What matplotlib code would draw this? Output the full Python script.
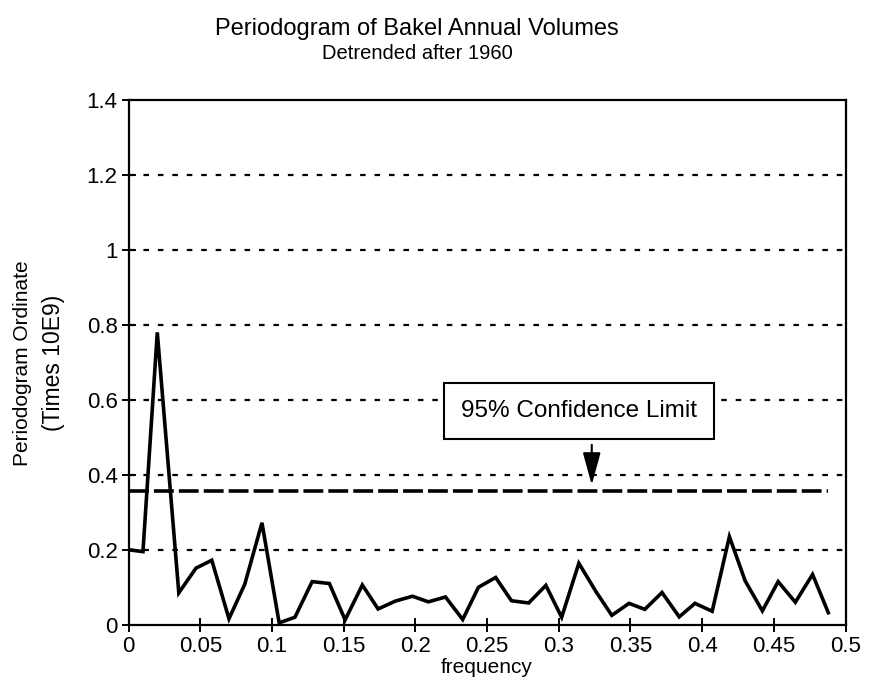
import numpy as np
import matplotlib
matplotlib.use("Agg")
import matplotlib.pyplot as plt

plt.rcParams['font.family'] = ['Liberation Sans', 'DejaVu Sans']

# Data
frequency = [0.000, 0.010, 0.020, 0.035, 0.047, 0.058, 0.070, 0.081, 0.093, 0.105,
             0.116, 0.128, 0.140, 0.151, 0.163, 0.174, 0.186, 0.198, 0.209, 0.221,
             0.233, 0.244, 0.256, 0.267, 0.279, 0.291, 0.302, 0.314, 0.326, 0.337,
             0.349, 0.360, 0.372, 0.384, 0.395, 0.407, 0.419, 0.430, 0.442, 0.453,
             0.465, 0.477, 0.488]
ordinate = [0.20, 0.195, 0.78, 0.085, 0.151, 0.172, 0.016, 0.108, 0.272, 0.005,
            0.02, 0.115, 0.11, 0.013, 0.106, 0.042, 0.063, 0.076, 0.061, 0.074,
            0.014, 0.10, 0.126, 0.064, 0.058, 0.105, 0.02, 0.164, 0.088, 0.025,
            0.057, 0.041, 0.086, 0.021, 0.057, 0.036, 0.235, 0.117, 0.037, 0.115,
            0.06, 0.134, 0.032]
conf_x = [0.0, 0.488]
conf_limit = [0.358, 0.358]
xticks = [0, 0.05, 0.1, 0.15, 0.2, 0.25, 0.3, 0.35, 0.4, 0.45, 0.5]
xticklabels = ["0", "0.05", "0.1", "0.15", "0.2", "0.25", "0.3", "0.35", "0.4", "0.45", "0.5"]
yticks = [0, 0.2, 0.4, 0.6, 0.8, 1.0, 1.2, 1.4]
yticklabels = ["0", "0.2", "0.4", "0.6", "0.8", "1", "1.2", "1.4"]
grid_levels = [0.2, 0.4, 0.6, 0.8, 1.0, 1.2]

fig = plt.figure(figsize=(8.69, 6.85), dpi=100)
ax = fig.add_axes([0.148, 0.088, 0.825, 0.766])

for g in grid_levels:
    ax.axhline(g, color='black', lw=1.6, ls=(0, (2.5, 4)), zorder=1)

ax.plot(frequency, ordinate, color='black', lw=2.6, solid_joinstyle='miter', zorder=3)
ax.plot(conf_x, conf_limit, color='black', lw=2.6, ls=(0, (5.5, 1.4)), zorder=3)

ax.set_xlim(0, 0.5)
ax.set_ylim(0, 1.4)
ax.set_xticks(xticks)
ax.set_xticklabels(xticklabels, fontsize=16)
ax.set_yticks(yticks)
ax.set_yticklabels(yticklabels, fontsize=16)
ax.tick_params(direction='inout', length=10, width=1.4, pad=3, colors='black')
for s in ax.spines.values():
    s.set_linewidth(1.6)

ax.set_xlabel("frequency", fontsize=15, labelpad=1)
fig.text(0.026, 0.47, "Periodogram Ordinate", rotation=90, fontsize=15,
         ha='center', va='center')
fig.text(0.062, 0.47, "(Times 10E9)", rotation=90, fontsize=16.5,
         ha='center', va='center')

fig.text(0.48, 0.958, "Periodogram of Bakel Annual Volumes", fontsize=17,
         ha='center', va='center')
fig.text(0.48, 0.922, "Detrended after 1960", fontsize=14.5,
         ha='center', va='center')

ax.text(0.314, 0.57, "95% Confidence Limit", fontsize=17.5, ha='center', va='center',
        zorder=5,
        bbox=dict(boxstyle='square,pad=0.7', fc='white', ec='black', lw=1.5))
ax.annotate("", xy=(0.323, 0.373), xytext=(0.323, 0.48),
            arrowprops=dict(arrowstyle='-|>,head_length=2.0,head_width=0.55',
                            color='black', lw=1.5, shrinkA=0, shrinkB=0), zorder=5)

fig.savefig("out.png", dpi=100, facecolor='white')
